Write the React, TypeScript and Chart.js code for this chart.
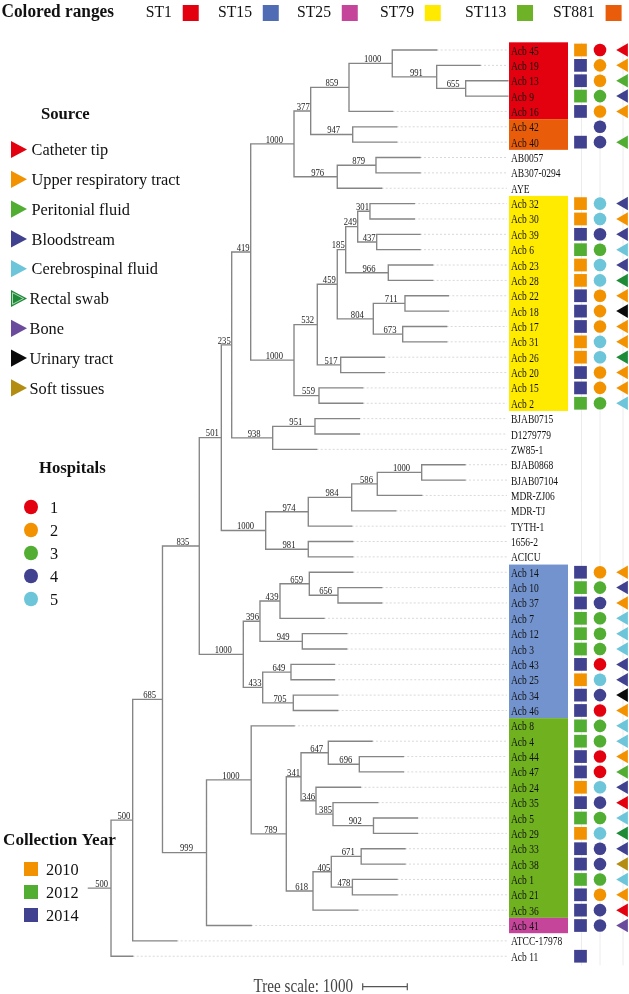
import React, { useEffect, useRef } from 'react';
import { Chart, registerables } from 'chart.js';

Chart.register(...registerables);

// ---------------- DATA ----------------
const leafNames = ['Acb 45','Acb 19','Acb 13','Acb 9','Acb 16','Acb 42','Acb 40','AB0057','AB307-0294','AYE','Acb 32','Acb 30','Acb 39','Acb 6','Acb 23','Acb 28','Acb 22','Acb 18','Acb 17','Acb 31','Acb 26','Acb 20','Acb 15','Acb 2','BJAB0715','D1279779','ZW85-1','BJAB0868','BJAB07104','MDR-ZJ06','MDR-TJ','TYTH-1','1656-2','ACICU','Acb 14','Acb 10','Acb 37','Acb 7','Acb 12','Acb 3','Acb 43','Acb 25','Acb 34','Acb 46','Acb 8','Acb 4','Acb 44','Acb 47','Acb 24','Acb 35','Acb 5','Acb 29','Acb 33','Acb 38','Acb 1','Acb 21','Acb 36','Acb 41','ATCC-17978','Acb 11'];

const leafParents = ['n1000f','n991','n655','n655','n859','n947','n947','n879','n879','n976','n301','n301','n437','n437','n966','n966','n711','n711','n673','n673','n517','n517','n559','n559','n951','n951','n938','n1000g','n1000g','n586','n984','n974','n981','n981','n659','n656','n656','n439','n949','n949','n649','n649','n705','n705','n1000b','n647','n696','n696','n346','n385','n902','n902','n671','n671','n478','n478','n618','n999','n500b','n500a'];

// distance from root of each leaf tip (tree units)
const leafTips = [7809,8780,9407,9407,6822,6912,6912,7435,7435,6576,7307,7307,7435,7435,7719,7719,8069,8069,8033,8033,6634,6634,6150,6150,6074,6074,5118,8443,8443,7473,6890,5903,5926,5926,5926,6576,6576,5282,5791,5791,5513,5513,5589,5589,4610,6358,7060,7060,6100,6486,7376,7376,7098,7098,6919,6919,6038,3650,1980,993];

const nodeIds = ['root','n500a','n500b','n685','n835','n501','n235','n419','n1000a','n377','n859','n1000f','n991','n655','n947','n976','n879','n1000c','n532','n459','n185','n249','n301','n437','n966','n804','n711','n673','n517','n559','n938','n951','n1000d','n974','n984','n586','n1000g','n981','n1000e','n396','n439','n659','n656','n949','n433','n649','n705','n999','n1000b','n789','n341','n647','n696','n346','n385','n902','n618','n405','n671','n478'];

const nodeParents = ['','root','n500a','n500b','n685','n835','n501','n235','n419','n1000a','n377','n859','n1000f','n991','n377','n1000a','n976','n419','n1000c','n532','n459','n185','n249','n249','n185','n459','n804','n804','n532','n1000c','n235','n938','n501','n1000d','n974','n984','n586','n1000d','n835','n1000e','n396','n439','n659','n396','n1000e','n433','n433','n685','n999','n1000b','n789','n341','n647','n341','n346','n385','n789','n618','n405','n405'];

const nodeDepths = [0,507,993,1661,2486,2980,3213,3639,4610,4984,5843,6813,7809,8459,5926,5580,6448,4610,5132,5580,5769,6038,6313,6464,6724,6388,7098,7047,5657,5170,4132,5080,3975,4930,5903,6477,7473,4930,3473,3847,4296,4953,5596,4796,3908,4542,4594,2648,3650,4437,4767,5379,6074,5103,5484,6392,5036,5446,6116,5919];

const nodeSupport = ['','500','500','685','835','501','235','419','1000','377','859','1000','991','655','947','976','879','1000','532','459','185','249','301','437','966','804','711','673','517','559','938','951','1000','974','984','586','1000','981','1000','396','439','659','656','949','433','649','705','999','1000','789','341','647','696','346','385','902','618','405','671','478'];

const leafST = ['ST1','ST1','ST1','ST1','ST1','ST881','ST881','','','','ST79','ST79','ST79','ST79','ST79','ST79','ST79','ST79','ST79','ST79','ST79','ST79','ST79','ST79','','','','','','','','','','','ST15','ST15','ST15','ST15','ST15','ST15','ST15','ST15','ST15','ST15','ST113','ST113','ST113','ST113','ST113','ST113','ST113','ST113','ST113','ST113','ST113','ST113','ST113','ST25','',''];

const leafYear = ['2010','2014','2014','2012','2014','','2014','','','','2010','2010','2014','2012','2010','2010','2014','2014','2014','2010','2010','2014','2014','2012','','','','','','','','','','','2014','2012','2014','2012','2012','2012','2014','2010','2014','2014','2012','2012','2014','2014','2010','2014','2012','2010','2014','2014','2012','2014','2014','2014','','2014'];

const leafHospital = ['1','2','2','3','2','4','4','','','','5','5','4','3','5','5','2','2','2','5','5','2','2','3','','','','','','','','','','','2','3','4','3','3','3','1','5','4','1','3','3','1','1','5','4','3','5','4','4','3','2','4','4','',''];

const leafSource = ['Catheter tip','Upper respiratory tract','Peritonial fluid','Bloodstream','Upper respiratory tract','','Peritonial fluid','','','','Bloodstream','Upper respiratory tract','Bloodstream','Cerebrospinal fluid','Bloodstream','Rectal swab','Upper respiratory tract','Urinary tract','Upper respiratory tract','Upper respiratory tract','Rectal swab','Upper respiratory tract','Upper respiratory tract','Cerebrospinal fluid','','','','','','','','','','','Upper respiratory tract','Bloodstream','Upper respiratory tract','Cerebrospinal fluid','Cerebrospinal fluid','Cerebrospinal fluid','Bloodstream','Bloodstream','Urinary tract','Upper respiratory tract','Cerebrospinal fluid','Cerebrospinal fluid','Upper respiratory tract','Peritonial fluid','Bloodstream','Catheter tip','Cerebrospinal fluid','Rectal swab','Bloodstream','Soft tissues','Cerebrospinal fluid','Upper respiratory tract','Catheter tip','Bone','',''];

const stNames = ['ST1','ST15','ST25','ST79','ST113','ST881'];
const sourceNames = ['Catheter tip','Upper respiratory tract','Peritonial fluid','Bloodstream','Cerebrospinal fluid','Rectal swab','Bone','Urinary tract','Soft tissues'];
const hospitalNames = ['1','2','3','4','5'];
const yearNames = ['2010','2012','2014'];
const scaleBarLength = 1000;

// ---------------- STYLE / LAYOUT ----------------
const W = 629, H = 994;
const ROOT_PX = 88.4;
const PX_PER_UNIT = 44.6 / 1000;
const ROW0_PX = 50;
const ROW_PX = 15.36;
const X_MIN = -ROOT_PX / PX_PER_UNIT;
const X_MAX = (W - ROOT_PX) / PX_PER_UNIT;
const Y_MIN = -ROW0_PX / ROW_PX;
const Y_MAX = (H - ROW0_PX) / ROW_PX;

const LABEL_END_PX = 507;
const LABEL_X = 511;
const RANGE_X0 = 509, RANGE_X1 = 568;
const YEAR_COL = 580.5, HOSP_COL = 600, SRC_COL = 624;

const stRangeColor: Record<string, string> = { ST1: '#e3000f', ST15: '#7293cd', ST25: '#c5459b', ST79: '#ffeb00', ST113: '#6fb11f', ST881: '#e85c0a' };
const stLegendColor: Record<string, string> = { ST1: '#e3000f', ST15: '#4f6cb4', ST25: '#c5459b', ST79: '#ffe900', ST113: '#6db227', ST881: '#e85c0a' };
const yearColor = ['#f39200', '#52ae32', '#40418f'];
const hospColor = ['#e3000f', '#f39200', '#52ae32', '#40418f', '#6cc5d8'];
const srcColor = ['#e3000f', '#f39200', '#52ae32', '#40418f', '#6cc5d8', '#1e8b37', '#6b4c9c', '#0b0b0b', '#b38d12'];

const TOP_TEXT_X = [145.8, 218, 297, 380, 465, 553];
const SERIF = '"Liberation Serif", "Times New Roman", serif';

function buildTree() {
  const depth: Record<string, number> = {};
  const parent: Record<string, string> = {};
  nodeIds.forEach((id, i) => { depth[id] = nodeDepths[i]; parent[id] = nodeParents[i]; });
  const children: Record<string, { kind: 'node' | 'leaf'; key: string | number }[]> = {};
  nodeIds.forEach((id) => { children[id] = []; });
  nodeIds.forEach((id) => { if (parent[id]) children[parent[id]].push({ kind: 'node', key: id }); });
  leafParents.forEach((p, i) => children[p].push({ kind: 'leaf', key: i }));
  const yMemo: Record<string, number> = {};
  const ext: Record<string, [number, number]> = {};
  const yOf = (c: { kind: string; key: string | number }): number => {
    if (c.kind === 'leaf') return c.key as number;
    const id = c.key as string;
    if (yMemo[id] !== undefined) return yMemo[id];
    const ys = children[id].map(yOf);
    const lo = Math.min(...ys), hi = Math.max(...ys);
    ext[id] = [lo, hi];
    yMemo[id] = (lo + hi) / 2;
    return yMemo[id];
  };
  nodeIds.forEach((id) => yOf({ kind: 'node', key: id }));
  return { depth, parent, yMemo, ext };
}

function txt(ctx: CanvasRenderingContext2D, s: string, x: number, y: number, font: string, color: string, sx: number, align: 'left' | 'right' | 'center' = 'left') {
  ctx.save();
  ctx.font = font;
  ctx.fillStyle = color;
  ctx.textBaseline = 'alphabetic';
  ctx.textAlign = 'left';
  ctx.translate(x, y);
  ctx.scale(sx, 1);
  const w = ctx.measureText(s).width;
  const dx = align === 'right' ? -w : align === 'center' ? -w / 2 : 0;
  ctx.fillText(s, dx, 0);
  ctx.restore();
}

export default function App() {
  const ref = useRef<HTMLCanvasElement>(null);
  useEffect(() => {
    document.body.style.margin = '0';
    const canvas = ref.current!;
    const T = buildTree();

    const treePts: { x: number; y: number }[] = [];
    const gap = () => treePts.push({ x: NaN, y: NaN });
    nodeIds.forEach((id) => {
      const p = T.parent[id];
      const y = T.yMemo[id];
      if (p) { treePts.push({ x: T.depth[p], y }, { x: T.depth[id], y }); gap(); }
      const e = T.ext[id];
      if (e) { treePts.push({ x: T.depth[id], y: e[0] }, { x: T.depth[id], y: e[1] }); gap(); }
    });
    leafParents.forEach((p, i) => { treePts.push({ x: T.depth[p], y: i }, { x: leafTips[i], y: i }); gap(); });

    const endUnits = (LABEL_END_PX - ROOT_PX) / PX_PER_UNIT;
    const dotPts: { x: number; y: number }[] = [];
    leafTips.forEach((t, i) => { if (t < endUnits - 20) { dotPts.push({ x: t, y: i }, { x: endUnits, y: i }, { x: NaN, y: NaN }); } });

    const yearPts: any[] = [], yearCols: string[] = [];
    const hospPts: any[] = [], hospCols: string[] = [];
    const srcPts: any[] = [], srcCols: string[] = [];
    leafNames.forEach((_, i) => {
      const yi = yearNames.indexOf(leafYear[i]);
      if (yi >= 0) { yearPts.push({ x: YEAR_COL, y: i }); yearCols.push(yearColor[yi]); }
      const hi = hospitalNames.indexOf(leafHospital[i]);
      if (hi >= 0) { hospPts.push({ x: HOSP_COL, y: i }); hospCols.push(hospColor[hi]); }
      const si = sourceNames.indexOf(leafSource[i]);
      if (si >= 0) { srcPts.push({ x: SRC_COL, y: i }); srcCols.push(srcColor[si]); }
    });

    const decor = {
      id: 'decor',
      beforeDatasetsDraw(chart: any) {
        const ctx: CanvasRenderingContext2D = chart.ctx;
        const ys = chart.scales.y;
        ctx.save();
        ctx.strokeStyle = '#ececec';
        ctx.lineWidth = 1;
        [YEAR_COL + 1, HOSP_COL, SRC_COL - 1].forEach((x) => {
          ctx.beginPath(); ctx.moveTo(x, ys.getPixelForValue(-0.5)); ctx.lineTo(x, ys.getPixelForValue(leafNames.length - 0.4)); ctx.stroke();
        });
        let i = 0;
        while (i < leafST.length) {
          const st = leafST[i];
          let j = i;
          while (j + 1 < leafST.length && leafST[j + 1] === st) j++;
          if (st) {
            const y0 = ys.getPixelForValue(i - 0.5), y1 = ys.getPixelForValue(j + 0.5);
            ctx.fillStyle = stRangeColor[st];
            ctx.fillRect(RANGE_X0, y0, RANGE_X1 - RANGE_X0, y1 - y0);
          }
          i = j + 1;
        }
        ctx.restore();
      },
      afterDatasetsDraw(chart: any) {
        const ctx: CanvasRenderingContext2D = chart.ctx;
        const xs = chart.scales.x, ys = chart.scales.y;
        leafNames.forEach((n, i) => txt(ctx, n, LABEL_X, ys.getPixelForValue(i) + 4.5, `13px ${SERIF}`, '#111', 0.73));
        nodeIds.forEach((id, k) => {
          const s = nodeSupport[k];
          const p = T.parent[id];
          if (!s || !p) return;
          const x0 = xs.getPixelForValue(T.depth[p]), x1 = xs.getPixelForValue(T.depth[id]);
          ctx.save(); ctx.font = `10.5px ${SERIF}`; const w = ctx.measureText(s).width * 0.82; ctx.restore();
          const cx = Math.min((x0 + x1) / 2 + 2, x1 - w / 2 - 1);
          txt(ctx, s, cx, ys.getPixelForValue(T.yMemo[id]) - 1.2, `10.5px ${SERIF}`, '#222', 0.82, 'center');
        });
        txt(ctx, 'Colored ranges', 1.5, 16.5, `bold 18px ${SERIF}`, '#111', 0.96);
        stNames.forEach((st, k) => {
          ctx.save(); ctx.font = `16.5px ${SERIF}`; const w = ctx.measureText(st).width * 0.95; ctx.restore();
          txt(ctx, st, TOP_TEXT_X[k], 16.5, `16.5px ${SERIF}`, '#111', 0.95);
          ctx.fillStyle = stLegendColor[st];
          ctx.fillRect(TOP_TEXT_X[k] + w + 10.8, 5, 16, 16);
        });
        txt(ctx, 'Source', 41, 119, `bold 17px ${SERIF}`, '#111', 0.98);
        sourceNames.forEach((s, k) => {
          const cy = 149.5 + k * 29.8;
          ctx.save();
          ctx.fillStyle = srcColor[k];
          ctx.beginPath(); ctx.moveTo(11, cy - 8.6); ctx.lineTo(27, cy); ctx.lineTo(11, cy + 8.6); ctx.closePath(); ctx.fill();
          if (s === 'Rectal swab') { ctx.strokeStyle = 'rgba(255,255,255,0.8)'; ctx.lineWidth = 0.8; ctx.beginPath(); ctx.moveTo(12.5, cy - 5.8); ctx.lineTo(23.5, cy); ctx.lineTo(12.5, cy + 5.8); ctx.closePath(); ctx.stroke(); }
          ctx.restore();
          txt(ctx, s, k >= 5 ? 29.5 : 31.5, cy + 5.6, `17px ${SERIF}`, '#111', 0.96);
        });
        txt(ctx, 'Hospitals', 39, 473, `bold 17px ${SERIF}`, '#111', 0.98);
        hospitalNames.forEach((h, k) => {
          const cy = 507 + k * 23;
          ctx.save(); ctx.fillStyle = hospColor[k]; ctx.beginPath(); ctx.ellipse(31, cy, 7, 7.3, 0, 0, Math.PI * 2); ctx.fill(); ctx.restore();
          txt(ctx, h, 50, cy + 5.5, `17px ${SERIF}`, '#111', 0.96);
        });
        txt(ctx, 'Collection Year', 3, 845, `bold 17.5px ${SERIF}`, '#111', 0.98);
        yearNames.forEach((yv, k) => {
          const cy = 869 + k * 23;
          ctx.fillStyle = yearColor[k];
          ctx.fillRect(24, cy - 7, 14, 14);
          txt(ctx, yv, 46, cy + 5.5, `17px ${SERIF}`, '#111', 0.96);
        });
        const barLen = xs.getPixelForValue(scaleBarLength) - xs.getPixelForValue(0);
        const bx = 362.7, by = 986.7;
        ctx.save();
        ctx.strokeStyle = '#555'; ctx.lineWidth = 1.2;
        ctx.beginPath();
        ctx.moveTo(bx, by); ctx.lineTo(bx + barLen, by);
        ctx.moveTo(bx, by - 3.5); ctx.lineTo(bx, by + 3.5);
        ctx.moveTo(bx + barLen, by - 3.5); ctx.lineTo(bx + barLen, by + 3.5);
        ctx.stroke();
        ctx.restore();
        txt(ctx, `Tree scale: ${scaleBarLength}`, 353, 991.5, `18px ${SERIF}`, '#444', 0.84, 'right');
      },
    };

    const chart = new Chart(canvas, {
      type: 'scatter',
      data: {
        datasets: [
          { data: srcPts, xAxisID: 'px', yAxisID: 'y', pointStyle: 'triangle', pointRotation: 270, pointRadius: 7.8, pointHoverRadius: 7.8, backgroundColor: srcCols, borderWidth: 0 } as any,
          { data: hospPts, xAxisID: 'px', yAxisID: 'y', pointStyle: 'circle', pointRadius: 6.3, pointHoverRadius: 6.3, backgroundColor: hospCols, borderWidth: 0 } as any,
          { data: yearPts, xAxisID: 'px', yAxisID: 'y', pointStyle: 'rect', pointRadius: 9, pointHoverRadius: 9, backgroundColor: yearCols, borderWidth: 0 } as any,
          { data: treePts, xAxisID: 'x', yAxisID: 'y', showLine: true, spanGaps: false, borderColor: '#858585', borderWidth: 1.35, pointRadius: 0, pointHoverRadius: 0, borderCapStyle: 'square' } as any,
          { data: dotPts, xAxisID: 'x', yAxisID: 'y', showLine: true, spanGaps: false, borderColor: '#d9d9d9', borderWidth: 1, borderDash: [2, 2], pointRadius: 0, pointHoverRadius: 0 } as any,
        ],
      },
      options: {
        responsive: false,
        animation: false,
        events: [],
        layout: { padding: 0, autoPadding: false } as any,
        plugins: { legend: { display: false }, tooltip: { enabled: false } },
        scales: {
          x: { type: 'linear', min: X_MIN, max: X_MAX, display: false },
          px: { type: 'linear', axis: 'x', min: 0, max: W, display: false } as any,
          y: { type: 'linear', min: Y_MIN, max: Y_MAX, reverse: true, display: false },
        },
      },
      plugins: [decor],
    });
    return () => chart.destroy();
  }, []);
  return <canvas ref={ref} width={W} height={H} style={{ display: 'block' }} />;
}
